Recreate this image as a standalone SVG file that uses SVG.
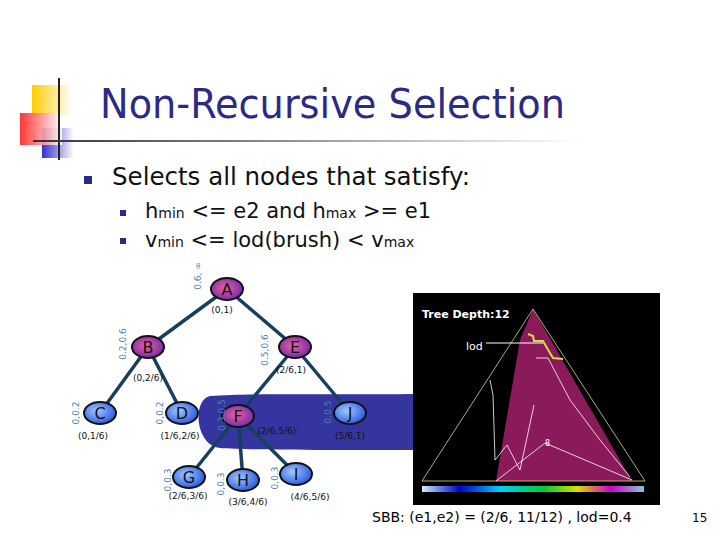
<svg xmlns="http://www.w3.org/2000/svg" width="720" height="540" viewBox="0 0 720 540">
<style>
text{font-family:Tahoma,"DejaVu Sans",sans-serif}
.nt{font-size:16px;text-anchor:middle;fill:#111}
.lb{font-size:9px;text-anchor:middle;fill:#111}
.rl{font-size:9px;text-anchor:middle;fill:#4a7fb5}
.ed{stroke:#173f5f;stroke-width:3.5}
.blue{fill:url(#gb);stroke:#111;stroke-width:2}
.pur{fill:url(#gp);stroke:#111;stroke-width:2}
</style>
<defs>
<radialGradient id="gb" cx="0.4" cy="0.4" r="0.6"><stop offset="0" stop-color="#9fc8ff"/><stop offset="1" stop-color="#2f5fe0"/></radialGradient>
<radialGradient id="gp" cx="0.45" cy="0.45" r="0.6"><stop offset="0" stop-color="#f0609a"/><stop offset="1" stop-color="#6a28b0"/></radialGradient>
<linearGradient id="hl" x1="0" x2="1"><stop offset="0" stop-color="#333"/><stop offset="1" stop-color="#fff"/></linearGradient>
<linearGradient id="ry" x1="0" x2="1"><stop offset="0" stop-color="#ffcc00"/><stop offset="1" stop-color="#fff"/></linearGradient>
<linearGradient id="rr" x1="0" x2="1"><stop offset="0" stop-color="#ff2020"/><stop offset="1" stop-color="#fff"/></linearGradient>
<linearGradient id="rb" x1="0" x2="1"><stop offset="0" stop-color="#3333cc"/><stop offset="1" stop-color="#fff"/></linearGradient>
<linearGradient id="cb" x1="0" x2="1"><stop offset="0" stop-color="#cfefff"/><stop offset="0.17" stop-color="#0000cc"/><stop offset="0.35" stop-color="#00ccff"/><stop offset="0.55" stop-color="#00cc33"/><stop offset="0.7" stop-color="#dddd00"/><stop offset="0.85" stop-color="#cc00cc"/><stop offset="1" stop-color="#88c8d8"/></linearGradient>
</defs>
<rect width="720" height="540" fill="#fff"/>
<g id="logo">
<rect x="32" y="85" width="40" height="30" fill="url(#ry)"/>
<rect x="42" y="128" width="32" height="30" fill="url(#rb)"/>
<rect x="20" y="113" width="42" height="32" fill="url(#rr)" opacity="0.9"/>
<line x1="59" y1="78" x2="59" y2="160" stroke="#222" stroke-width="2"/>
<rect x="33" y="140" width="550" height="2" fill="url(#hl)"/>
</g>
<text x="100" y="118" font-size="40" fill="#2b2b85" textLength="465" lengthAdjust="spacingAndGlyphs">Non-Recursive Selection</text>
<rect x="84" y="176" width="8" height="8" fill="#2b2b85"/>
<text x="112" y="185" font-size="25" fill="#111" textLength="358" lengthAdjust="spacingAndGlyphs">Selects all nodes that satisfy:</text>
<rect x="120" y="210" width="6" height="6" fill="#2b2b85"/>
<text x="145" y="218" font-size="21" fill="#111">h<tspan font-size="14">min</tspan> &lt;= e2 and h<tspan font-size="14">max</tspan> &gt;= e1</text>
<rect x="120" y="238" width="6" height="6" fill="#2b2b85"/>
<text x="145" y="247" font-size="21" fill="#111">v<tspan font-size="14">min</tspan> &lt;= lod(brush) &lt; v<tspan font-size="14">max</tspan></text>
<path d="M210 396 C250 393 330 395 413 394 L413 450 C330 450 250 450 220 448 C195 445 192 400 210 396 Z" fill="#3535a0"/>
<g id="connectors">
<line class="ed" x1="227" y1="289" x2="148" y2="347"/>
<line class="ed" x1="227" y1="289" x2="295" y2="347"/>
<line class="ed" x1="148" y1="347" x2="100" y2="413"/>
<line class="ed" x1="148" y1="347" x2="182" y2="413"/>
<line class="ed" x1="295" y1="347" x2="238" y2="416"/>
<line class="ed" x1="295" y1="347" x2="350" y2="413"/>
<line class="ed" x1="238" y1="416" x2="189" y2="477"/>
<line class="ed" x1="238" y1="416" x2="243" y2="480"/>
<line class="ed" x1="238" y1="416" x2="296" y2="474"/>
</g>
<g id="A"><ellipse class="pur" cx="227" cy="289" rx="16" ry="11"/><text class="nt" x="227" y="295">A</text><text class="lb" x="222" y="313">(0,1)</text><text class="rl" transform="translate(201,276) rotate(-90)">0.6, ∞</text></g>
<g id="B"><ellipse class="pur" cx="148" cy="347" rx="16" ry="11"/><text class="nt" x="148" y="353">B</text><text class="lb" x="148" y="381">(0,2/6)</text><text class="rl" transform="translate(126,344) rotate(-90)">0.2,0.6</text></g>
<g id="E"><ellipse class="pur" cx="295" cy="347" rx="16" ry="11"/><text class="nt" x="295" y="353">E</text><text class="lb" x="291" y="373">(2/6,1)</text><text class="rl" transform="translate(268,350) rotate(-90)">0.5,0.6</text></g>
<g id="C"><ellipse class="blue" cx="100" cy="413" rx="16" ry="11"/><text class="nt" x="100" y="419">C</text><text class="lb" x="93" y="439">(0,1/6)</text><text class="rl" transform="translate(79,413) rotate(-90)">0,0.2</text></g>
<g id="D"><ellipse class="blue" cx="182" cy="413" rx="16" ry="11"/><text class="nt" x="182" y="419">D</text><text class="lb" x="180" y="439">(1/6,2/6)</text><text class="rl" transform="translate(163,413) rotate(-90)">0,0.2</text></g>
<g id="F"><ellipse class="pur" cx="238" cy="416" rx="16" ry="11"/><text class="nt" x="238" y="422">F</text><text class="lb" x="279" y="434">(2/6,5/6)`</text><text class="rl" transform="translate(225,415) rotate(-90)">0.3,0.5</text></g>
<g id="J"><ellipse class="blue" cx="350" cy="413" rx="16" ry="11"/><text class="nt" x="350" y="419">J</text><text class="lb" x="350" y="439">(5/6,1)</text><text class="rl" transform="translate(331,412) rotate(-90)">0,0.5</text></g>
<g id="G"><ellipse class="blue" cx="189" cy="477" rx="16" ry="11"/><text class="nt" x="189" y="483">G</text><text class="lb" x="188" y="499">(2/6,3/6)</text><text class="rl" transform="translate(171,480) rotate(-90)">0,0.3</text></g>
<g id="H"><ellipse class="blue" cx="243" cy="480" rx="16" ry="11"/><text class="nt" x="243" y="486">H</text><text class="lb" x="248" y="505">(3/6,4/6)</text><text class="rl" transform="translate(224,484) rotate(-90)">0,0.3</text></g>
<g id="I"><ellipse class="blue" cx="296" cy="474" rx="16" ry="11"/><text class="nt" x="296" y="480">I</text><text class="lb" x="310" y="500">(4/6,5/6)</text><text class="rl" transform="translate(278,478) rotate(-90)">0,0.3</text></g>
<g id="panel">
<rect x="413" y="293" width="247" height="212" fill="#000"/>
<polygon points="533,309 520,340 496,481 632,481" fill="#8b1a5a"/>
<polygon points="533,309 422,481 645,481" fill="none" stroke="#d8d890" stroke-width="0.8"/>
<polyline points="528,334 533,336 534,341 543,341 547,348 553,358 563,359" fill="none" stroke="#d0e040" stroke-width="2"/>
<polyline points="536,358 548,358 570,400 600,440 630,477" fill="none" stroke="#fff" stroke-width="0.8"/>
<polyline points="496,481 545,443 632,480" fill="none" stroke="#fff" stroke-width="0.8"/>
<polyline points="534,405 520,470 507,445 495,460 493,395 490,380" fill="none" stroke="#fff" stroke-width="0.8"/>
<text x="545" y="446" font-size="8" fill="#fff">8</text>
<rect x="422" y="486" width="222" height="6" fill="url(#cb)"/>
<text x="422" y="318" font-size="11" fill="#fff" font-family="'Liberation Sans Narrow','DejaVu Sans Condensed',sans-serif" font-weight="bold">Tree Depth:12</text>
<text x="466" y="350" font-size="11" fill="#fff" font-family="'DejaVu Sans Condensed',sans-serif">lod</text>
<line x1="486" y1="343" x2="543" y2="343" stroke="#fff" stroke-width="1"/>
</g>
<text x="372" y="522" font-size="14" fill="#000">SBB: (e1,e2) = (2/6, 11/12) , lod=0.4</text>
<text x="692" y="522" font-size="12" fill="#000">15</text>
</svg>
